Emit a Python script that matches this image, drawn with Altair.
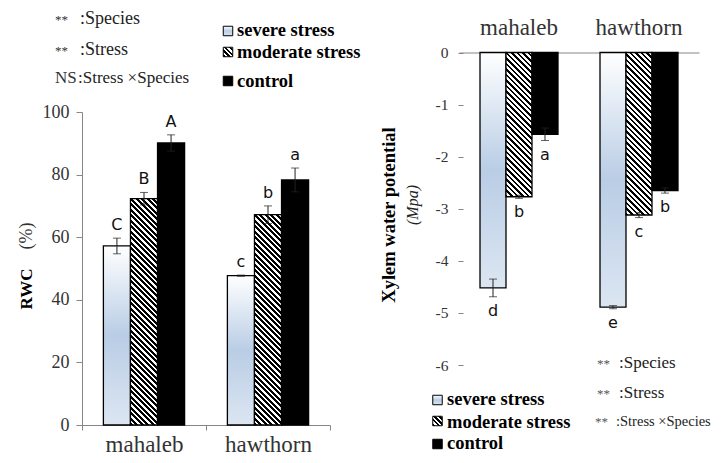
import altair as alt
import pandas as pd

# ---------------- data ----------------
species = ["mahaleb", "hawthorn"]
stress = ["severe stress", "moderate stress", "control"]

rwc_mean = [57.2, 72.3, 90.1, 47.7, 67.2, 78.3]
rwc_err = [2.5, 2.0, 2.6, 0.2, 2.8, 3.8]
rwc_letters = ["C", "B", "A", "c", "b", "a"]

xwp_mean = [-4.52, -2.77, -1.57, -4.89, -3.12, -2.65]
xwp_err = [0.17, 0.03, 0.12, 0.03, 0.05, 0.05]
xwp_letters = ["d", "b", "a", "e", "c", "b"]

left_notes = [("**", ":Species"), ("**", ":Stress"), ("NS", ":Stress \u00d7Species")]
right_notes = [("**", ":Species"), ("**", ":Stress"), ("**", ":Stress \u00d7Species")]

rows = []
for i, sp in enumerate(species):
    for j, st in enumerate(stress):
        k = i * 3 + j
        rows.append(dict(
            species=sp, stress=st,
            rwc=rwc_mean[k], rwc_lo=rwc_mean[k] - rwc_err[k], rwc_hi=rwc_mean[k] + rwc_err[k],
            rwc_letter=rwc_letters[k],
            xwp=xwp_mean[k], xwp_lo=xwp_mean[k] - xwp_err[k], xwp_hi=xwp_mean[k] + xwp_err[k],
            xwp_letter=xwp_letters[k],
        ))
df = pd.DataFrame(rows)
one = pd.DataFrame({"k": [0]})

# ---------------- style ----------------
SERIF = "Liberation Serif"
SANS = "DejaVu Sans"
AX = "#868686"
LAB = "#333333"
W, H = 708, 447

L_X = [74, 322]
L_Y = [417, 104]
R_X = [451, 691]
R_Y = [357, 44.5]

severe_grad = alt.LinearGradient(
    gradient="linear", x1=0, y1=0, x2=0, y2=1,
    stops=[alt.GradientStop(color="#ffffff", offset=0),
           alt.GradientStop(color="#b9cde5", offset=0.5),
           alt.GradientStop(color="#dce6f2", offset=1)])


def stripes(w, h, period=5.5, black=0.5):
    total = w + h
    k = total / (w * w + h * h)
    step = period / total
    stops = []
    t = 0.0
    while t < 1:
        t1 = min(t + step * black, 1.0)
        t2 = min(t + step, 1.0)
        stops += [alt.GradientStop(color="black", offset=round(t, 5)),
                  alt.GradientStop(color="black", offset=round(t1, 5)),
                  alt.GradientStop(color="white", offset=round(t1, 5)),
                  alt.GradientStop(color="white", offset=round(t2, 5))]
        t += step
    return alt.LinearGradient(gradient="linear", stops=stops,
                              x1=0, y1=1, x2=k * w, y2=1 - k * h)


def panel(xr, yr, sub_pad, yfield, ydomain, xaxis, yaxis, letter_dy, letter_base,
          low_field, hi_field, letter_field, letter_anchor):
    x = alt.X("species:N", sort=species,
              scale=alt.Scale(domain=species, range=xr, paddingInner=0, paddingOuter=0),
              axis=xaxis)
    xo = alt.XOffset("stress:N", sort=stress,
                     scale=alt.Scale(domain=stress, paddingInner=0, paddingOuter=sub_pad))
    y = alt.Y(f"{yfield}:Q", scale=alt.Scale(domain=ydomain, range=yr, nice=False), axis=yaxis)
    base = alt.Chart(df)
    step = (xr[1] - xr[0]) / 2
    bw = step / (3 + 2 * sub_pad)
    ppu = abs(yr[0] - yr[1]) / (ydomain[1] - ydomain[0])
    layers = [
        base.transform_filter(alt.datum.stress == stress[0])
            .mark_bar(fill=severe_grad, stroke="black", strokeWidth=1.3)
            .encode(x=x, xOffset=xo, y=y),
    ]
    for sp in species:
        v = df[(df.species == sp) & (df.stress == stress[1])][yfield].iloc[0]
        layers.append(
            base.transform_filter((alt.datum.stress == stress[1]) & (alt.datum.species == sp))
                .mark_bar(fill=stripes(bw, abs(v) * ppu), stroke="black", strokeWidth=1.3)
                .encode(x=x, xOffset=xo, y=y))
    layers += [
        base.transform_filter(alt.datum.stress == stress[2])
            .mark_bar(fill="black", stroke="black", strokeWidth=1.3)
            .encode(x=x, xOffset=xo, y=y),
        base.mark_rule(color="#222", strokeWidth=1)
            .encode(x=x, xOffset=xo, y=alt.Y(f"{low_field}:Q"), y2=f"{hi_field}:Q"),
        base.mark_tick(color="#222", thickness=1, size=8)
            .encode(x=x, xOffset=xo, y=f"{hi_field}:Q"),
        base.mark_tick(color="#222", thickness=1, size=8)
            .encode(x=x, xOffset=xo, y=f"{low_field}:Q"),
        base.mark_text(font=SANS, fontSize=16, color="#111", baseline=letter_base, dy=letter_dy)
            .encode(x=x, xOffset=xo, y=f"{letter_anchor}:Q", text=f"{letter_field}:N"),
    ]
    return alt.layer(*layers)


left = panel(
    L_X, L_Y, 0.79, "rwc", [0, 100],
    alt.Axis(orient="bottom", offset=-(H - L_Y[0]), title=None, tickBand="extent",
             labelFont=SERIF, labelFontSize=23, labelColor=LAB, labelPadding=21,
             labelBaseline="alphabetic", labelAngle=0,
             domainColor=AX, tickColor=AX, tickSize=5, grid=False),
    alt.Axis(orient="left", offset=-L_X[0], title=None, values=[0, 20, 40, 60, 80, 100],
             labelFont=SERIF, labelFontSize=18, labelColor=LAB, labelPadding=7,
             domainColor=AX, tickColor=AX, tickSize=6, grid=False),
    -5, "bottom", "rwc_lo", "rwc_hi", "rwc_letter", "rwc_hi")

right = panel(
    R_X, R_Y, 0.808, "xwp", [-6, 0],
    alt.Axis(orient="top", offset=-R_Y[1], title=None, ticks=False,
             labelFont=SERIF, labelFontSize=23, labelColor=LAB, labelPadding=13, labelAngle=0,
             domainColor=AX, grid=False),
    alt.Axis(orient="left", offset=-455, title=None, values=[-6, -5, -4, -3, -2, -1, 0],
             labelExpr="'' + datum.value",
             labelFont=SERIF, labelFontSize=15.5, labelColor=LAB, labelPadding=10,
             domain=False, tickColor=AX, tickSize=5, grid=False),
    6, "top", "xwp_lo", "xwp_hi", "xwp_letter", "xwp_lo")


def txt(text, x, y, size, weight="normal", font=SERIF, align="left", baseline="alphabetic",
        angle=0, color="#222", style="normal"):
    return alt.Chart(one).mark_text(
        text=text, font=font, fontSize=size, fontWeight=weight, align=align,
        baseline=baseline, angle=angle, color=color, fontStyle=style
    ).encode(x=alt.value(x), y=alt.value(y))


def sq(x, y, fill):
    return alt.Chart(one).mark_square(size=90, fill=fill, stroke="black", strokeWidth=1,
                                      opacity=1).encode(x=alt.value(x), y=alt.value(y))


notes = []
# left annotations
for (a, b), yb in zip(left_notes, [16, 47, 75]):
    big = a == "NS"
    notes.append(txt(a, 47, yb, 17 if big else 13, color="#333"))
    notes.append(txt(b, 70 if big else 72, yb, 17 if big else 18))
# right annotations
for (a, b), yb in zip(right_notes, [360, 390, 418]):
    cross = "\u00d7" in b
    notes.append(txt(a, 587 if cross else 589, yb, 13, color="#555"))
    notes.append(txt(b, 608 if cross else 611, yb, 14.5 if cross else 17))

fills = [severe_grad, stripes(9.5, 9.5, period=5.0), "black"]
# left legend
for st, f, ys, yb in zip(stress, fills, [23, 44, 73], [28, 50, 79]):
    notes.append(sq(220, ys, f))
    notes.append(txt(st, 229, yb, 18.5, weight="bold", color="black"))
# right legend
for st, f, ys, yb in zip(stress, fills, [392, 413, 436], [397, 420, 441]):
    notes.append(sq(429.5, ys, f))
    notes.append(txt(st, 439, yb, 18.5, weight="bold", color="black"))

# axis titles
notes.append(txt("RWC", 19, 281, 17, weight="bold", align="center", baseline="middle", angle=270, color="black"))
notes.append(txt("(%)", 19, 228, 18, align="center", baseline="middle", angle=270, color="#333"))
notes.append(txt("Xylem water potential", 381, 207, 18.5, weight="bold", align="center",
                 baseline="middle", angle=270, color="black"))
notes.append(txt("(Mpa)", 405, 197, 16, style="italic", align="center", baseline="middle",
                 angle=270, color="#222"))

chart = alt.layer(left, right, *notes).resolve_scale(
    x="independent", y="independent", xOffset="independent"
).properties(
    width=W, height=H, padding=0, autosize=alt.AutoSizeParams(type="none"),
    background="white"
).configure_view(stroke=None)

chart.save("out.html", embed_options={"renderer": "svg", "actions": False})
